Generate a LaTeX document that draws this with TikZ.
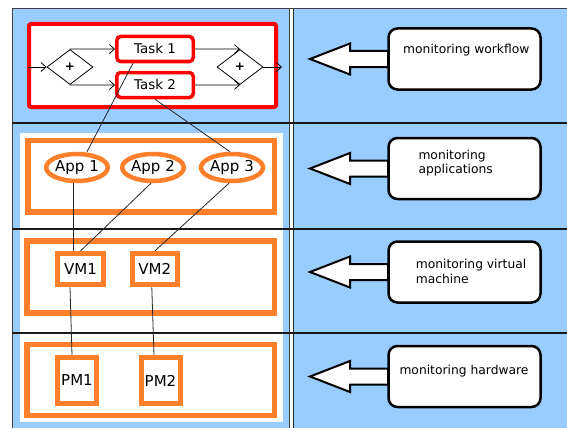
\documentclass[tikz,border=0pt]{standalone}
\usepackage{fontspec}
\setmainfont{DejaVu Sans}
\usetikzlibrary{shapes.geometric,arrows.meta,calc}
\definecolor{bg}{HTML}{99CCFF}
\definecolor{org}{HTML}{FF7F2A}
\begin{document}
\begin{tikzpicture}[x=1pt,y=-1pt,
  divider/.style={line width=2pt, draw=black!90},
  redbox/.style={draw=red, line width=4pt, rounded corners=2pt, fill=white, inner sep=0},
  task/.style={draw=red, line width=3.5pt, rounded corners=4pt, fill=white, minimum width=76.5, minimum height=25, inner sep=0, font=\fontsize{13.4}{16}\selectfont},
  gate/.style={diamond, draw, line width=0.8pt, fill=white, minimum width=46, minimum height=35, inner sep=0, font=\bfseries\fontsize{12}{14}\selectfont},
  flow/.style={-{Straight Barb[length=5pt,width=9pt]}, line width=0.8pt},
  layer/.style={draw=org, line width=5.5pt, fill=white, inner sep=0},
  app/.style={ellipse, draw=org, line width=4.5pt, fill=white, minimum width=59, minimum height=27, inner sep=0, font=\fontsize{15}{18}\selectfont},
  vmbox/.style={draw=org, line width=5pt, fill=white, inner sep=0, font=\fontsize{15}{18}\selectfont},
  conn/.style={draw=black!85, line width=0.8pt},
  callout/.style={draw, line width=2.5pt, rounded corners=9pt, fill=white, minimum width=152, minimum height=61, inner sep=0},
  calltext/.style={anchor=base west, inner sep=0, align=left, font=\fontsize{12.3}{14.5}\selectfont},
  blockarrow/.style={draw, line width=2pt, fill=white, line join=miter}
]
\useasboundingbox (0,0) rectangle (567,428);
% background lanes
\fill[bg] (12,9) rectangle (567,428);
\fill[white] (20,133) rectangle (283,422);
\draw[black!75, line width=1pt] (12,428) -- (12,9) -- (567,9);
\fill[white] (289.5,9) rectangle (293.5,428);
\draw[black!75, line width=1pt] (289.5,9) -- (289.5,428);
\draw[black!85, line width=1pt] (293.5,9) -- (293.5,428);
\draw[divider] (12,123) -- (567,123);
\draw[divider] (12,228.5) -- (567,228.5);
\draw[divider] (12,333) -- (567,333);

% workflow layer
\node[redbox, minimum width=247, minimum height=83] (wf) at (152.5,65.5) {};
\node[gate] (g1) at (70,67) {+};
\node[gate] (g2) at (240,67) {+};
\node[task] (t1) at (155,49) {Task 1};
\node[task] (t2) at (155,85) {Task 2};
\coordinate (in) at (28,67);
\coordinate (out) at (282,67);
\draw[flow] (in) -- (g1.west);
\draw[flow] (g1.north) -- (t1.west);
\draw[flow] (g1.south) -- (t2.west);
\draw[flow] (t1.east) -- (g2.north);
\draw[flow] (t2.east) -- (g2.south);
\draw[flow] (g2.east) -- (out);

% application layer
\node[layer, minimum width=246.5, minimum height=71.5] (al) at (151.25,176.25) {};
\node[app] (a1) at (77,167.5) {App 1};
\node[app, minimum width=61] (a2) at (153,167.5) {App 2};
\node[app, minimum width=62] (a3) at (232,167.5) {App 3};

% VM layer
\node[layer, minimum width=247.5, minimum height=72] (vl) at (150.75,277) {};
\node[vmbox, minimum width=46, minimum height=31.5] (vm1) at (80.5,269.2) {VM1};
\node[vmbox, minimum width=45.5, minimum height=31.5] (vm2) at (154.8,269.2) {VM2};

% PM layer
\node[layer, minimum width=247.5, minimum height=71] (pl) at (150.75,380) {};
\node[vmbox, minimum width=39, minimum height=46] (pm1) at (77,380.5) {PM1};
\node[vmbox, minimum width=39, minimum height=46] (pm2) at (160.5,380.5) {PM2};

% connectors
\draw[conn] ([xshift=-22]t1.south) -- ([xshift=10]a1.north);
\draw[conn] (t2.south) -- ([xshift=-2]a3.north);
\draw[conn] ([xshift=-4]a1.south) -- ([xshift=-7.5]vm1.north);
\draw[conn] ([xshift=-2]a2.south) -- (vm1.north);
\draw[conn] ([xshift=-3]a3.south) -- (vm2.north);
\draw[conn] ([xshift=-10.5]vm1.south) -- ([xshift=-5]pm1.north);
\draw[conn] ([xshift=-3]vm2.south) -- ([xshift=-6.5]pm2.north);

% callouts
\foreach \n/\y in {c1/59, c2/168.5, c3/272, c4/376.5}{
  \draw[blockarrow] (310,\y) -- (350,\y-15.5) -- (350,\y-8) -- (388,\y-8)
     -- (388,\y+8) -- (350,\y+8) -- (350,\y+15.5) -- cycle;
  \node[callout] (\n) at (464.5,\y) {};
}
\node[calltext] (l1) at (403,53) {monitoring workflow};
\node[calltext] (l2) at (418.3,173.5) {monitoring\\applications};
\node[calltext] (l3) at (415.7,283) {monitoring virtual\\machine};
\node[calltext] (l4) at (399.3,374.3) {monitoring hardware};
\end{tikzpicture}
\end{document}
